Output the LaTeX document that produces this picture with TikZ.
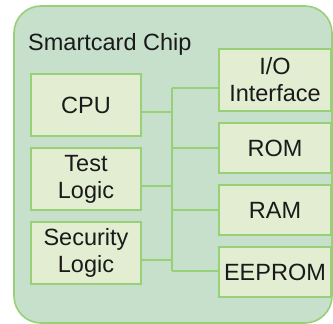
\documentclass[tikz,border=0pt]{standalone}
\usepackage{fontspec}
\setmainfont{Liberation Sans}
\usetikzlibrary{positioning}

\definecolor{chipfill}{HTML}{C6E0CC}
\definecolor{boxfill}{HTML}{E2EDD2}
\definecolor{chipline}{HTML}{97D077}
\definecolor{txt}{HTML}{1A1A1A}

\begin{document}
\begin{tikzpicture}[x=1pt, y=1pt, node distance=12pt,
    box/.style={draw=chipline, fill=boxfill, line width=1.6pt, inner sep=0pt, outer sep=0pt, align=center, text=txt, font=\fontsize{23.5}{27}\selectfont},
    leftbox/.style={box, minimum width=110pt, minimum height=62pt},
    rightbox/.style={box, minimum width=112pt, minimum height=50pt},
    bus/.style={draw=chipline, line width=2pt}]
    \useasboundingbox (0,0) rectangle (333,-324);
    % Chip outline
    \draw[chipline, fill=chipfill, line width=1.6pt, rounded corners=27pt] (14,-6) rectangle (332,-323);
    \node[anchor=base west, inner sep=0pt, text=txt, font=\fontsize{23.5}{27}\selectfont] (title) at (28,-50) {Smartcard Chip};

    % Nodes
    \node[leftbox] (cpu) at (86,-105) {CPU};
    \node[leftbox, below=of cpu] (test) {Test\\Logic};
    \node[leftbox, below=of test] (sec) {Security\\Logic};
    \node[rightbox, minimum height=62pt] (io) at (275,-80) {I/O\\Interface};
    \node[rightbox, below=of io] (rom) {ROM};
    \node[rightbox, below=of rom] (ram) {RAM};
    \node[rightbox, below=of ram] (eeprom) {EEPROM};

    % Bus
    \coordinate (bustop) at (172,-88);
    \coordinate (busbot) at (172,-271);
    \draw[bus] (bustop) -- (busbot);
    \draw[bus] ([yshift=-7pt]cpu.east) -| (bustop);
    \draw[bus] ([yshift=-7pt]test.east) -| (bustop);
    \draw[bus] ([yshift=-7pt]sec.east) -| (busbot);
    \draw[bus] (io.west |- bustop) -- (bustop);
    \draw[bus] (rom.west) -| (bustop);
    \draw[bus] (ram.west) -| (busbot);
    \draw[bus] (eeprom.west |- busbot) -- (busbot);
\end{tikzpicture}
\end{document}
